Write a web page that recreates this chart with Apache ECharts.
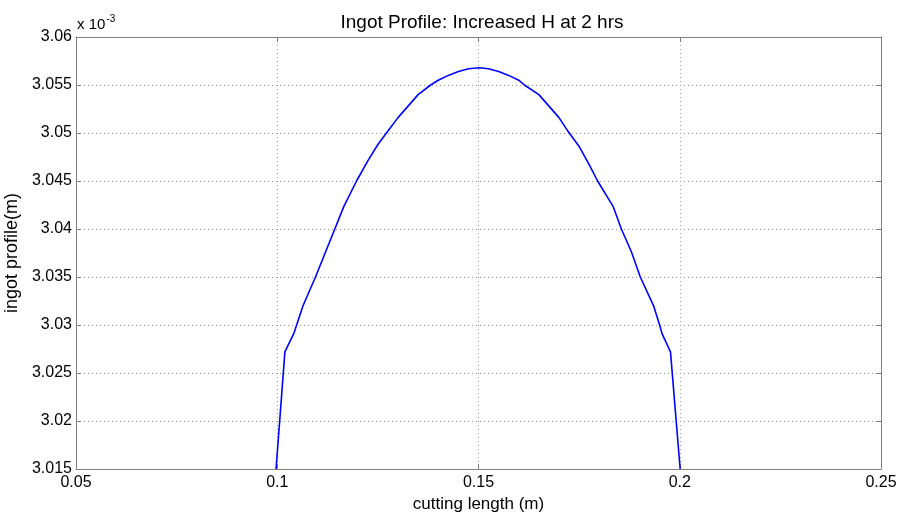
<!DOCTYPE html>
<html>
<head>
<meta charset="utf-8">
<script src="https://cdn.jsdelivr.net/npm/echarts@6/dist/echarts.min.js"></script>
<style>html,body{margin:0;padding:0;background:#fff}#c{width:899px;height:515px}</style>
</head>
<body>
<div id="c"></div>
<script>
// cutting length (m)
const cuttingLength = [0.0997, 0.1019, 0.1041, 0.1064, 0.1095, 0.1120, 0.1143, 0.1165, 0.1197, 0.1225, 0.1250, 0.1275, 0.1300, 0.1325,
  0.1350, 0.1381, 0.1400, 0.1425, 0.1450, 0.1475, 0.1502, 0.1525, 0.1550, 0.1575, 0.1600, 0.1614, 0.1650, 0.1675, 0.1700,
  0.1722, 0.1750, 0.1775, 0.1796, 0.1835, 0.1855, 0.1880, 0.1902, 0.1935, 0.1950, 0.1956, 0.1977, 0.2001];
// ingot profile (x 10^-3 m)
const ingotProfile = [3.0150, 3.0272, 3.0291, 3.0320, 3.0350, 3.0376, 3.0400, 3.0423, 3.0450, 3.0471, 3.0488, 3.0502, 3.0516, 3.0528,
  3.0540, 3.0550, 3.0555, 3.0560, 3.0564, 3.0567, 3.0568, 3.0567, 3.0564, 3.0560, 3.0555, 3.0550, 3.0540, 3.0528, 3.0516,
  3.0502, 3.0486, 3.0467, 3.0450, 3.0423, 3.0400, 3.0376, 3.0350, 3.0320, 3.0300, 3.0291, 3.0272, 3.0150];
const xTicks = [0.05, 0.1, 0.15, 0.2, 0.25];
const yTicks = [3.015, 3.02, 3.025, 3.03, 3.035, 3.04, 3.045, 3.05, 3.055, 3.06];

const fmt = v => String(Number(Number(v).toFixed(3)));
const axisCol = '#808080';
const font = 'Liberation Sans, Arial, sans-serif';
const chart = echarts.init(document.getElementById('c'));
const baseX = {
  type: 'value', min: xTicks[0], max: xTicks[xTicks.length - 1], interval: 0.05,
  axisLine: { show: true, onZero: false, lineStyle: { color: axisCol, width: 1 } },
  axisTick: { show: true, inside: true, length: 5, lineStyle: { color: axisCol } }
};
const baseY = {
  type: 'value', min: yTicks[0], max: yTicks[yTicks.length - 1], interval: 0.005,
  axisLine: { show: true, onZero: false, lineStyle: { color: axisCol, width: 1 } },
  axisTick: { show: true, inside: true, length: 5, lineStyle: { color: axisCol } }
};
chart.setOption({
  animation: false,
  title: {
    text: 'Ingot Profile: Increased H at 2 hrs', left: 477, top: 8, textAlign: 'center',
    textStyle: { fontFamily: font, fontSize: 19, fontWeight: 'normal', color: '#000' }
  },
  grid: { left: 76, right: 18, top: 37, bottom: 46, show: false, containLabel: false, outerBoundsMode: 'none' },
  xAxis: [
    Object.assign({}, baseX, {
      position: 'bottom',
      name: 'cutting length (m)', nameLocation: 'middle', nameGap: 22,
      nameTextStyle: { fontFamily: font, fontSize: 17, color: '#000' },
      axisLabel: { formatter: fmt, fontFamily: font, fontSize: 16, color: '#000', margin: 6 },
      splitLine: { show: true, lineStyle: { color: '#9a9a9a', type: [1, 3], width: 1 } }
    }),
    Object.assign({}, baseX, { position: 'top', axisLabel: { show: false }, splitLine: { show: false } })
  ],
  yAxis: [
    Object.assign({}, baseY, {
      position: 'left',
      name: 'ingot profile(m)', nameLocation: 'middle', nameGap: 45,
      nameTextStyle: { fontFamily: font, fontSize: 18, color: '#000' },
      axisLabel: { formatter: fmt, fontFamily: font, fontSize: 16, color: '#000', margin: 4 },
      splitLine: { show: true, lineStyle: { color: '#9a9a9a', type: [1, 3], width: 1 } }
    }),
    Object.assign({}, baseY, { position: 'right', axisLabel: { show: false }, splitLine: { show: false } })
  ],
  graphic: [{
    type: 'text', left: 77, top: 14,
    style: {
      text: '{a|x 10}{b|-3}',
      rich: {
        a: { fontFamily: font, fontSize: 15, fill: '#000', verticalAlign: 'bottom' },
        b: { fontFamily: font, fontSize: 10, fill: '#000', verticalAlign: 'top', padding: [0, 0, 8, 1] }
      }
    }
  }],
  series: [{
    type: 'line', xAxisIndex: 0, yAxisIndex: 0,
    data: cuttingLength.map((x, i) => [x, ingotProfile[i]]),
    showSymbol: false, smooth: false,
    lineStyle: { color: '#0000ff', width: 1.6 }
  }]
});
</script>
</body>
</html>
